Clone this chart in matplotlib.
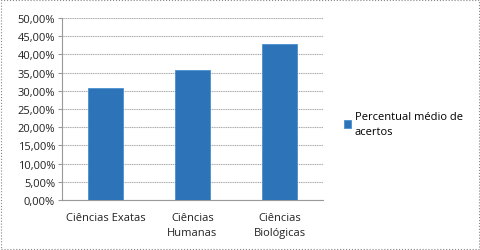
import numpy as np
import matplotlib
matplotlib.use("Agg")
import matplotlib.pyplot as plt
from matplotlib.patches import Rectangle
from matplotlib.ticker import FuncFormatter

categorias = ["Ciências Exatas", "Ciências\nHumanas", "Ciências\nBiológicas"]
valores = [30.7, 35.7, 42.9]
serie = "Percentual médio de\nacertos"
yticks = np.arange(0, 50.1, 5)

plt.rcParams['font.family'] = ['Open Sans', 'DejaVu Sans']
plt.rcParams['font.size'] = 8

fig = plt.figure(figsize=(4.81, 2.51), dpi=100)
ax = fig.add_axes([62/481, 1-201/251, 261/481, 182/251])

x = np.arange(len(categorias))
ax.bar(x, valores, width=0.4, color='#2c73b8', edgecolor='#4a90d0', linewidth=0.6,
       label=serie, zorder=3)
ax.set_xlim(-0.5, 2.5)
ax.set_ylim(0, 50)
ax.set_yticks(yticks)
ax.yaxis.set_major_formatter(FuncFormatter(lambda v, p: "{:.2f}%".format(v).replace(".", ",")))
ax.set_xticks(x)
ax.set_xticklabels(categorias, color='#222222', linespacing=1.5)
ax.tick_params(axis='y', length=3, color='#999999', labelcolor='#222222', pad=2)
ax.tick_params(axis='x', length=0, pad=9)
ax.grid(axis='y', color='#a8a8a8', linewidth=0.8, linestyle=(0, (1, 0.6)), zorder=0)
for s in ['top', 'right']:
    ax.spines[s].set_visible(False)
ax.spines['left'].set_color('#999999')
ax.spines['bottom'].set_color('#999999')
ax.spines['left'].set_linewidth(0.8)
ax.spines['bottom'].set_linewidth(0.8)

leg = fig.legend(loc='center left', bbox_to_anchor=(338/481, 1-125/251), frameon=False,
                 handlelength=0.7, handleheight=0.7, handletextpad=0.3, borderpad=0)
for t in leg.get_texts():
    t.set_linespacing(1.5)

fig.patches.append(Rectangle((0.003, 0.005), 0.992, 0.99, transform=fig.transFigure,
                             fill=False, edgecolor='#888888', linestyle=':', linewidth=0.8))

fig.savefig("out.png", dpi=100)
